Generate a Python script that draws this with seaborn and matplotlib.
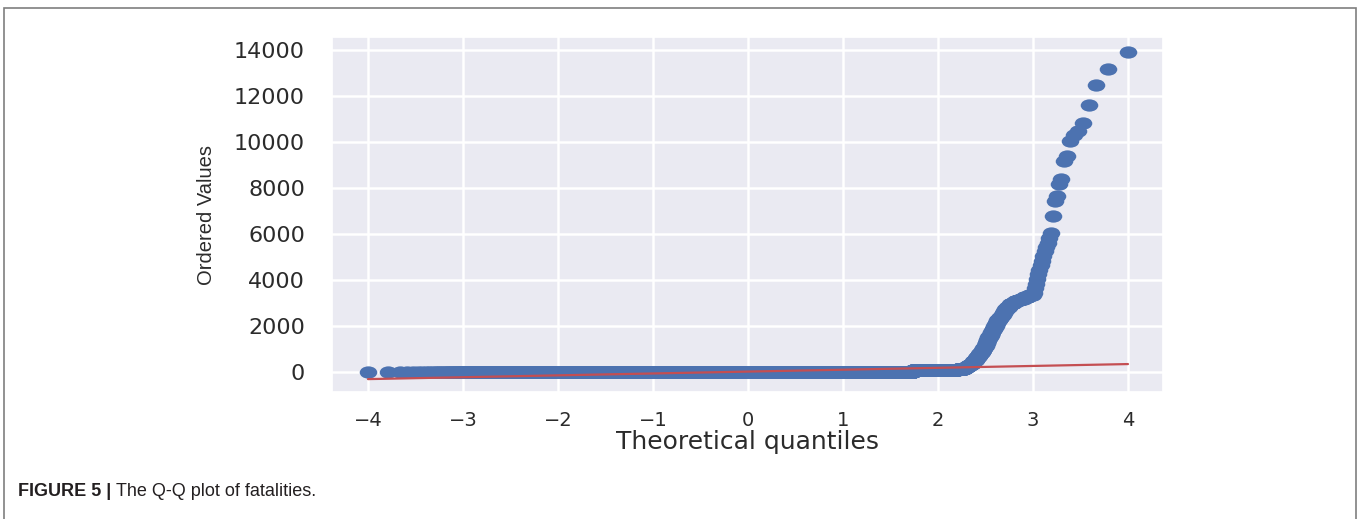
import numpy as np
import pandas as pd
import matplotlib
matplotlib.use("Agg")
import matplotlib.pyplot as plt
from matplotlib.path import Path
from matplotlib.patches import Rectangle
import seaborn as sns
from statistics import NormalDist

# Fatalities per record as a frequency table: value -> number of records
fatality_levels = [0, 1, 2, 3, 5, 8, 12, 20, 30,
                   100, 120, 130, 150,
                   170, 210, 260, 310, 370, 420, 480, 550,
                   600, 660, 720, 780, 830, 900, 970, 1040, 1130, 1260,
                   1390, 1520, 1640, 1760, 1880, 2000, 2120, 2250,
                   2340, 2420, 2500, 2560, 2650, 2750,
                   2850, 2950, 3000, 3100, 3150, 3200, 3250, 3350]
level_counts = [9000, 3500, 2200, 1500, 1500, 1300, 1000, 700, 400,
                400, 200, 25, 25,
                10, 10, 10, 10, 10, 6, 7, 7,
                5, 5, 5, 5, 5, 5, 5, 5, 5, 5,
                5, 5, 5, 5, 5, 5, 5, 5,
                3, 4, 3, 3, 3, 4,
                5, 5, 5, 5, 5, 5, 6, 5]

# The largest individual records
largest_records = [3450, 3650, 3850, 4050, 4250, 4450, 4650, 4850, 5050,
                   5250, 5450, 5600, 5850, 6070, 6800, 7450, 7670, 8180,
                   8400, 9200, 9400, 10040, 10290, 10500, 10840, 11600,
                   12470, 13170, 13930]

x_ticks = [-4, -3, -2, -1, 0, 1, 2, 3, 4]
y_ticks = [0, 2000, 4000, 6000, 8000, 10000, 12000, 14000]

caption_bold = "FIGURE 5 |"
caption_text = "The Q-Q plot of fatalities."

# Ordered sample
ordered = np.sort(np.concatenate([np.repeat(fatality_levels, level_counts),
                                  largest_records])).astype(float)
n = ordered.size

# Filliben's estimate of the uniform order-statistic medians
p = (np.arange(1, n + 1) - 0.3175) / (n + 0.365)
p[-1] = 0.5 ** (1.0 / n)
p[0] = 1.0 - p[-1]
nd = NormalDist()
theoretical = np.array([nd.inv_cdf(v) for v in p])

# Least-squares reference line
slope, intercept = np.polyfit(theoretical, ordered, 1)
fitted = slope * theoretical + intercept

df = pd.DataFrame({"Theoretical quantiles": theoretical,
                   "Ordered Values": ordered})

sns.set_theme(style="darkgrid", rc={"grid.linewidth": 1.8,
                                    "axes.facecolor": "#EAEAF2"})
plt.rcParams["font.family"] = ["DejaVu Sans"]

fig = plt.figure(figsize=(13.6, 5.19), dpi=100)
ax = fig.add_axes([0.24412, 0.24470, 0.61103, 0.68401])

# slightly flattened round marker
circle = Path.unit_circle()
ellipse = Path(circle.vertices * np.array([1.0, 0.7]), circle.codes)

sns.scatterplot(data=df, x="Theoretical quantiles", y="Ordered Values",
                marker=ellipse, s=160, color="#4C72B0", linewidth=0,
                ax=ax, zorder=2)
ax.plot(theoretical, fitted, color="#C44E52", lw=1.6, zorder=3)

ax.set_xlim(-4.38, 4.37)
ax.set_ylim(-856, 14565)
ax.set_xticks(x_ticks)
ax.set_yticks(y_ticks)
ax.tick_params(axis="y", labelsize=16, pad=13.5, colors="#2b2b2b")
ax.tick_params(axis="x", labelsize=14, pad=7.5, colors="#2b2b2b")

ax.set_xlabel("Theoretical quantiles", fontsize=18, color="#2b2b2b")
ax.set_ylabel("Ordered Values", fontsize=14.5, color="#2b2b2b",
              family="Liberation Sans")
ax.xaxis.set_label_coords(0.5, -0.108)
ax.yaxis.set_label_coords(-0.14, 0.5)

# Frame around the figure panel
fig.add_artist(Rectangle((4 / 1360, -0.05), 1352 / 1360, 1.05 - 8 / 519,
                         transform=fig.transFigure, fill=False,
                         edgecolor="#7f7f7f", lw=1.2))

# Caption
t1 = fig.text(18 / 1360, 1 - 496 / 519, caption_bold, fontsize=13,
              fontweight="bold", family="Liberation Sans", color="#231f20",
              va="baseline")
fig.canvas.draw()
bb = t1.get_window_extent()
fig.text((bb.x1 + 5) / 1360, 1 - 496 / 519, caption_text, fontsize=13,
         family="Liberation Sans", color="#231f20", va="baseline")

fig.savefig("out.png", dpi=100)
